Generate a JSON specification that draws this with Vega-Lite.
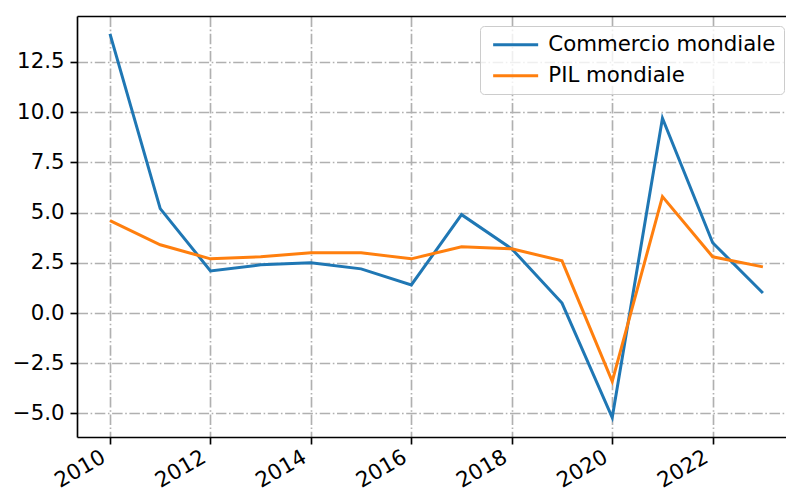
{
  "$schema": "https://vega.github.io/schema/vega-lite/v6.json",
  "width": 709,
  "height": 421,
  "autosize": {"type": "none"},
  "padding": {"left": 77, "top": 16, "right": 0, "bottom": 57},
  "background": "white",
  "data": {
    "values": [
      {"year": 2010, "series": "Commercio mondiale", "value": 13.9},
      {"year": 2011, "series": "Commercio mondiale", "value": 5.2},
      {"year": 2012, "series": "Commercio mondiale", "value": 2.1},
      {"year": 2013, "series": "Commercio mondiale", "value": 2.4},
      {"year": 2014, "series": "Commercio mondiale", "value": 2.5},
      {"year": 2015, "series": "Commercio mondiale", "value": 2.2},
      {"year": 2016, "series": "Commercio mondiale", "value": 1.4},
      {"year": 2017, "series": "Commercio mondiale", "value": 4.9},
      {"year": 2018, "series": "Commercio mondiale", "value": 3.2},
      {"year": 2019, "series": "Commercio mondiale", "value": 0.5},
      {"year": 2020, "series": "Commercio mondiale", "value": -5.2},
      {"year": 2021, "series": "Commercio mondiale", "value": 9.7},
      {"year": 2022, "series": "Commercio mondiale", "value": 3.5},
      {"year": 2023, "series": "Commercio mondiale", "value": 1.0},
      {"year": 2010, "series": "PIL mondiale", "value": 4.6},
      {"year": 2011, "series": "PIL mondiale", "value": 3.4},
      {"year": 2012, "series": "PIL mondiale", "value": 2.7},
      {"year": 2013, "series": "PIL mondiale", "value": 2.8},
      {"year": 2014, "series": "PIL mondiale", "value": 3.0},
      {"year": 2015, "series": "PIL mondiale", "value": 3.0},
      {"year": 2016, "series": "PIL mondiale", "value": 2.7},
      {"year": 2017, "series": "PIL mondiale", "value": 3.3},
      {"year": 2018, "series": "PIL mondiale", "value": 3.2},
      {"year": 2019, "series": "PIL mondiale", "value": 2.6},
      {"year": 2020, "series": "PIL mondiale", "value": -3.4},
      {"year": 2021, "series": "PIL mondiale", "value": 5.8},
      {"year": 2022, "series": "PIL mondiale", "value": 2.8},
      {"year": 2023, "series": "PIL mondiale", "value": 2.3}
    ]
  },
  "layer": [
    {
      "mark": {"type": "line", "strokeWidth": 3},
      "encoding": {
        "x": {
          "field": "year",
          "type": "quantitative",
          "scale": {"domain": [2009.343, 2023.46], "nice": false, "zero": false},
          "axis": {
            "orient": "bottom",
            "title": null,
            "values": [2010, 2012, 2014, 2016, 2018, 2020, 2022],
            "format": "d",
            "labelAngle": -30,
            "labelAlign": "right",
            "labelBaseline": "top",
            "labelOffset": -12,
            "labelPadding": 2,
            "grid": true
          }
        },
        "y": {
          "field": "value",
          "type": "quantitative",
          "scale": {"domain": [-6.17, 14.79], "nice": false, "zero": false},
          "axis": {
            "title": null,
            "values": [-5, -2.5, 0, 2.5, 5, 7.5, 10, 12.5],
            "format": ".1f",
            "labelPadding": 6,
            "grid": true
          }
        },
        "color": {
          "field": "series",
          "type": "nominal",
          "scale": {"domain": ["Commercio mondiale", "PIL mondiale"], "range": ["#1f77b4", "#ff7f0e"]},
          "legend": {
            "title": null,
            "orient": "none",
            "legendX": 403,
            "legendY": 10,
            "symbolType": "M-4,0H4",
            "symbolSize": 126.6,
            "symbolOffset": 17,
            "symbolStrokeWidth": 3,
            "symbolFillColor": "transparent",
            "labelOffset": 22,
            "labelLimit": 400,
            "labelFont": "DejaVu Sans",
            "labelFontSize": 21.3,
            "labelColor": "#000000",
            "rowPadding": 9,
            "padding": 8,
            "strokeColor": "#cccccc",
            "fillColor": "rgba(255,255,255,0.8)",
            "cornerRadius": 4
          }
        }
      }
    },
    {
      "mark": {"type": "line", "opacity": 0},
      "encoding": {
        "x": {
          "field": "year",
          "type": "quantitative",
          "axis": {"orient": "top", "title": null, "labels": false, "ticks": false, "grid": false, "domain": true}
        },
        "y": {"field": "value", "type": "quantitative"}
      }
    }
  ],
  "resolve": {"axis": {"x": "independent"}},
  "config": {
    "view": {"stroke": null},
    "axis": {
      "labelFont": "DejaVu Sans",
      "labelFontSize": 21.3,
      "labelColor": "#000000",
      "domainColor": "#000000",
      "domainWidth": 1.65,
      "tickColor": "#000000",
      "tickWidth": 1.65,
      "tickSize": 7,
      "gridColor": "#b0b0b0",
      "gridWidth": 1.65,
      "gridDash": [10.5, 2.6, 1.6, 2.6]
    }
  }
}
